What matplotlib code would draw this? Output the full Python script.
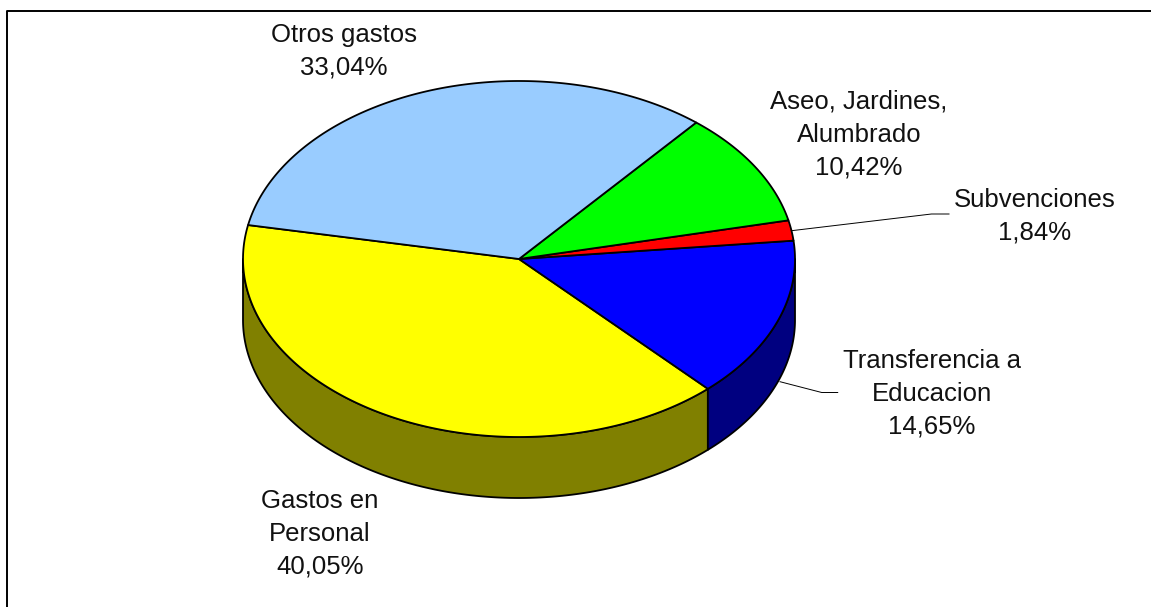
import numpy as np
import matplotlib
matplotlib.use("Agg")
import matplotlib.pyplot as plt

categories = ["Gastos en\nPersonal", "Transferencia a\nEducacion", "Subvenciones", "Aseo, Jardines,\nAlumbrado", "Otros gastos"]
values = [40.05, 14.65, 1.84, 10.42, 33.04]
value_labels = ["40,05%", "14,65%", "1,84%", "10,42%", "33,04%"]
top_colors = ["#FFFF00", "#0000FF", "#FF0000", "#00FF00", "#99CCFF"]
side_colors = ["#808000", "#000080", "#800000", "#008000", "#4C6680"]

W, H = 1151, 607
CX, CY, RX, RY, DEPTH = 519, 259, 276, 178, 61
START = 169.0

fig = plt.figure(figsize=(W / 100, H / 100), dpi=100, facecolor="white")
ax = fig.add_axes([0, 0, 1, 1])
ax.set_xlim(0, W)
ax.set_ylim(H, 0)
ax.axis("off")

def pt(a):
    a = np.radians(a)
    return CX + RX * np.cos(a), CY - RY * np.sin(a)

# frame: left and top edges only, the others are cropped away
ax.plot([7, 7, 1151], [607, 11, 11], color="black", lw=1.4)

# slices
edges = START + np.cumsum([0] + values) * 3.6

# outer wall, only the front half (180..360 deg) is visible
for i in range(len(values)):
    a0, a1 = max(edges[i], 180), min(edges[i + 1], 360)
    if a1 <= a0:
        continue
    t = np.linspace(a0, a1, 200)
    x, y = pt(t)
    ax.fill(np.r_[x, x[::-1]], np.r_[y, y[::-1] + DEPTH],
            facecolor=side_colors[i], edgecolor="black", lw=1.3, joinstyle="round", zorder=2)

# top faces
for i in range(len(values)):
    t = np.linspace(edges[i], edges[i + 1], 200)
    x, y = pt(t)
    ax.fill(np.r_[CX, x], np.r_[CY, y], facecolor=top_colors[i],
            edgecolor="black", lw=1.3, joinstyle="round", zorder=3)

# leader lines
ax.plot([791.5, 931.5, 949], [230.7, 214, 214], color="black", lw=0.7, zorder=4)
ax.plot([780, 821.7, 837.7], [381.7, 392.5, 392.5], color="black", lw=0.7, zorder=4)

# labels
label_pos = [(320, 534), (932, 394), (1034.5, 216), (859, 134.5), (344, 51)]
for name, val, (x, y) in zip(categories, value_labels, label_pos):
    ax.text(x, y, name + "\n" + val, ha="center", va="center", fontsize=18.55,
            family="Liberation Sans", color="#111111", linespacing=1.46, zorder=5)

fig.savefig("out.png", dpi=100, facecolor="white")
